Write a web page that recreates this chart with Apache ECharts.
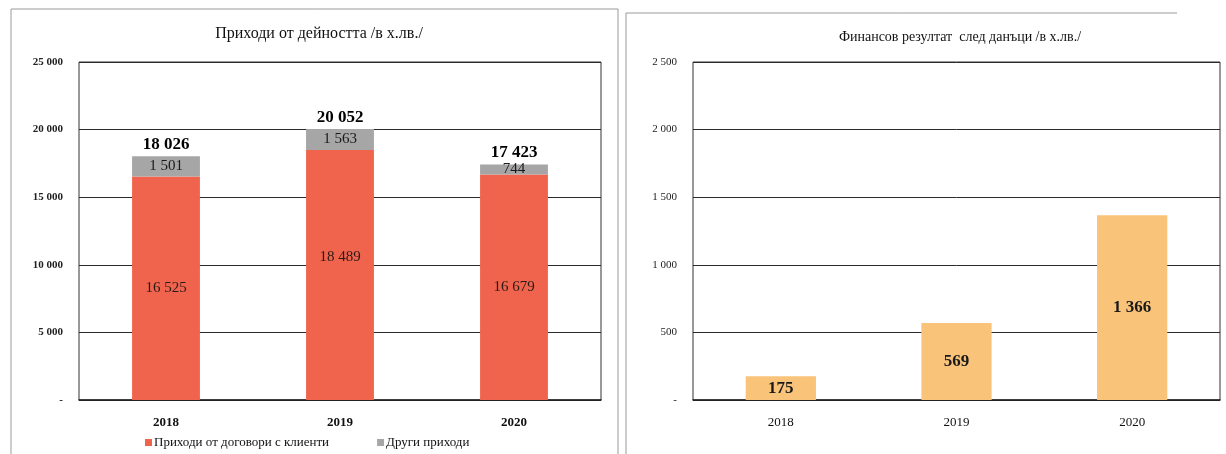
<!DOCTYPE html>
<html>
<head>
<meta charset="utf-8">
<script src="https://cdn.jsdelivr.net/npm/echarts@6/dist/echarts.min.js"></script>
<style>
  html, body { margin: 0; padding: 0; background: #fff; }
  #chart { width: 1226px; height: 454px; }
</style>
</head>
<body>
<div id="chart"></div>
<script>
// Revenue and net profit, thousand BGN
const years = ['2018', '2019', '2020'];
const contractRevenue = [16525, 18489, 16679];
const otherRevenue = [1501, 1563, 744];
const netProfit = [175, 569, 1366];
const revenueTicks = [0, 5000, 10000, 15000, 20000, 25000];
const profitTicks = [0, 500, 1000, 1500, 2000, 2500];

const totalRevenue = contractRevenue.map((v, i) => v + otherRevenue[i]);

const SERIF = '"Liberation Serif", "DejaVu Serif", serif';
const fmt = v => String(v).replace(/\B(?=(\d{3})+(?!\d))/g, ' ');
const tickFmt = v => (v === 0 ? '-' : fmt(v));

const chart = echarts.init(document.getElementById('chart'), null, { renderer: 'canvas' });

const yAxisBase = (ticks, gridIndex) => ({
  type: 'value',
  gridIndex,
  min: ticks[0],
  max: ticks[ticks.length - 1],
  interval: ticks[1] - ticks[0],
  axisLine: { show: false },
  axisTick: { show: false },
  axisLabel: {
    formatter: tickFmt, fontFamily: SERIF, fontSize: 11, color: '#222',
    margin: 16, fontWeight: gridIndex === 0 ? 'bold' : 'normal'
  },
  splitLine: { lineStyle: { color: '#2a2a2a', width: 1 } }
});

const xAxisBase = (gridIndex, bold) => ({
  type: 'category',
  gridIndex,
  data: years,
  axisLine: { lineStyle: { color: '#222', width: 1.5 } },
  axisTick: { show: false },
  axisLabel: { fontFamily: SERIF, fontSize: 13, color: '#111', margin: 16, fontWeight: bold ? 'bold' : 'normal' }
});

const option = {
  animation: false,
  backgroundColor: '#fff',
  title: [
    { text: 'Приходи от дейността /в х.лв./', left: 314, top: 21, textAlign: 'center',
      textStyle: { fontFamily: SERIF, fontSize: 16, fontWeight: 'normal', color: '#111' } },
    { text: 'Финансов резултат  след данъци /в х.лв./', left: 955, top: 25, textAlign: 'center',
      textStyle: { fontFamily: SERIF, fontSize: 14, fontWeight: 'normal', color: '#111' } }
  ],
  legend: {
    data: ['Приходи от договори с клиенти', 'Други приходи'],
    left: 140, top: 431,
    itemWidth: 7, itemHeight: 7, itemGap: 48,
    icon: 'rect',
    textStyle: { fontFamily: SERIF, fontSize: 13, color: '#111', padding: [0, 0, 0, -3] }
  },
  grid: [
    { left: 79, right: 625, top: 62, bottom: 54, show: true, borderColor: '#333', borderWidth: 1 },
    { left: 693, right: 6, top: 62, bottom: 54, show: true, borderColor: '#333', borderWidth: 1 }
  ],
  xAxis: [xAxisBase(0, true), xAxisBase(1, false)],
  yAxis: [yAxisBase(revenueTicks, 0), yAxisBase(profitTicks, 1)],
  graphic: [
    // panel frames
    { type: 'polyline', silent: true, shape: { points: [[11, 460], [11, 9], [618, 9], [618, 460]] },
      style: { stroke: '#9a9a9a', lineWidth: 1, fill: null } },
    { type: 'polyline', silent: true, shape: { points: [[626, 460], [626, 13], [1177, 13]] },
      style: { stroke: '#9a9a9a', lineWidth: 1, fill: null } }
  ],
  series: [
    {
      name: 'Приходи от договори с клиенти',
      type: 'bar', stack: 'rev', xAxisIndex: 0, yAxisIndex: 0,
      barWidth: '39%',
      itemStyle: { color: '#F0644E' },
      data: contractRevenue.map((v, i) => i === 1
        ? { value: v, label: { offset: [0, -18] } }
        : v),
      label: { show: true, position: 'inside', formatter: p => fmt(p.value),
        fontFamily: SERIF, fontSize: 15, color: '#2a1a16' }
    },
    {
      name: 'Други приходи',
      type: 'bar', stack: 'rev', xAxisIndex: 0, yAxisIndex: 0,
      barWidth: '39%',
      itemStyle: { color: '#A6A6A6' },
      data: otherRevenue,
      label: { show: true, position: 'inside', formatter: p => fmt(p.value),
        fontFamily: SERIF, fontSize: 15, color: '#1a1a1a' }
    },
    {
      name: 'Общо',
      type: 'scatter', xAxisIndex: 0, yAxisIndex: 0,
      symbolSize: 0,
      itemStyle: { opacity: 1 },
      data: totalRevenue,
      label: { show: true, position: 'top', distance: 3, formatter: p => fmt(p.value),
        fontFamily: SERIF, fontSize: 17, fontWeight: 'bold', color: '#000', opacity: 1 }
    },
    {
      name: 'Финансов резултат',
      type: 'bar', xAxisIndex: 1, yAxisIndex: 1,
      barWidth: '40%',
      itemStyle: { color: '#F9C47A' },
      data: netProfit,
      label: { show: true, position: 'inside', formatter: p => fmt(p.value),
        fontFamily: SERIF, fontSize: 17, fontWeight: 'bold', color: '#1a1a1a' }
    }
  ]
};

chart.setOption(option);
</script>
</body>
</html>
